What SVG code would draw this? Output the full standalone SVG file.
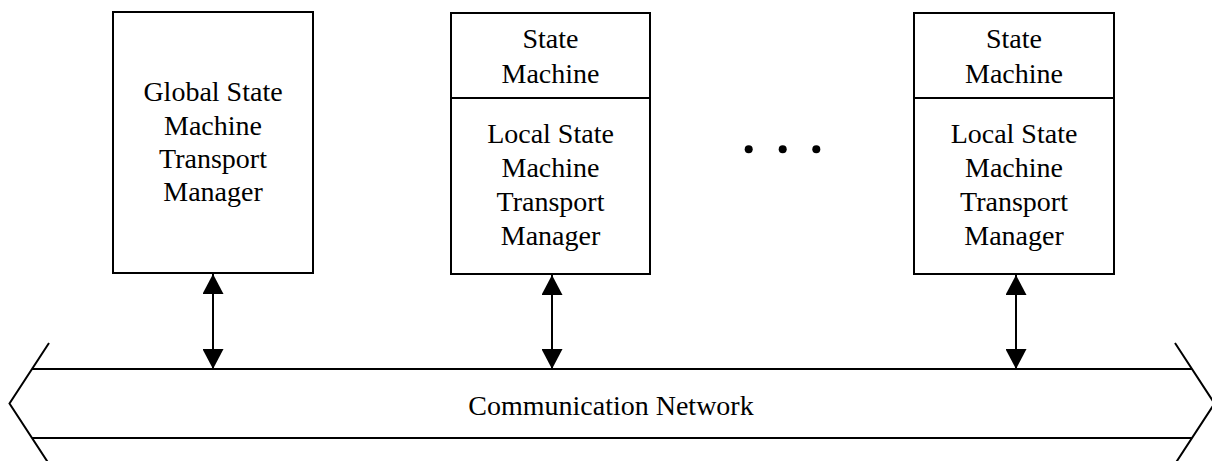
<svg xmlns="http://www.w3.org/2000/svg" width="1212" height="461" viewBox="0 0 1212 461">
  <style>
    .box { fill: #fff; stroke: #000; stroke-width: 2; }
    .div { stroke: #000; stroke-width: 2; }
    .lbl { font-family: "Liberation Serif", "Times New Roman", serif; font-size: 28px; fill: #000; text-anchor: middle; }
    .link { stroke: #000; stroke-width: 2; fill: none; marker-start: url(#head); marker-end: url(#head); }
    .bus { stroke: #000; stroke-width: 2; fill: none; }
    .dot { fill: #000; }
  </style>
  <defs>
    <marker id="head" viewBox="0 0 20 21" refX="20" refY="10.5" markerWidth="20" markerHeight="21" markerUnits="userSpaceOnUse" orient="auto-start-reverse">
      <path d="M0,0 L20,10.5 L0,21 Z" fill="#000"/>
    </marker>
  </defs>

  <rect width="1212" height="461" fill="#fff"/>

  <!-- Global manager -->
  <g id="global-manager">
    <rect class="box" x="113" y="12" width="200" height="261"/>
    <text class="lbl" x="213" y="101">Global State</text>
    <text class="lbl" x="213" y="135">Machine</text>
    <text class="lbl" x="213" y="168">Transport</text>
    <text class="lbl" x="213" y="201">Manager</text>
  </g>

  <!-- Local node 1 -->
  <g id="local-node-1">
    <rect class="box" x="451" y="13" width="199" height="261"/>
    <line class="div" x1="451" y1="98" x2="650" y2="98"/>
    <text class="lbl" x="550.5" y="48">State</text>
    <text class="lbl" x="550.5" y="83">Machine</text>
    <text class="lbl" x="550.5" y="143">Local State</text>
    <text class="lbl" x="550.5" y="177">Machine</text>
    <text class="lbl" x="550.5" y="211">Transport</text>
    <text class="lbl" x="550.5" y="245">Manager</text>
  </g>

  <!-- Ellipsis between local nodes -->
  <g id="ellipsis">
    <circle class="dot" cx="748.7" cy="149.3" r="4"/>
    <circle class="dot" cx="782.7" cy="149.3" r="4"/>
    <circle class="dot" cx="816.3" cy="149.3" r="4"/>
  </g>

  <!-- Local node N -->
  <g id="local-node-n">
    <rect class="box" x="914" y="13" width="200" height="261"/>
    <line class="div" x1="914" y1="98" x2="1114" y2="98"/>
    <text class="lbl" x="1014" y="48">State</text>
    <text class="lbl" x="1014" y="83">Machine</text>
    <text class="lbl" x="1014" y="143">Local State</text>
    <text class="lbl" x="1014" y="177">Machine</text>
    <text class="lbl" x="1014" y="211">Transport</text>
    <text class="lbl" x="1014" y="245">Manager</text>
  </g>

  <!-- Communication network bus -->
  <g id="network">
    <line class="bus" x1="32" y1="369" x2="1192" y2="369"/>
    <line class="bus" x1="32" y1="438" x2="1192" y2="438"/>
    <polyline class="bus" points="49,343 9.5,403.5 49,464"/>
    <polyline class="bus" points="1175,343 1214.5,403.5 1175,464"/>
    <text class="lbl" x="611" y="415">Communication Network</text>
  </g>

  <!-- Bidirectional links -->
  <g id="connectors">
    <line class="link" x1="213" y1="274" x2="213" y2="369"/>
    <line class="link" x1="552" y1="275" x2="552" y2="369"/>
    <line class="link" x1="1016" y1="275" x2="1016" y2="369"/>
  </g>
</svg>
